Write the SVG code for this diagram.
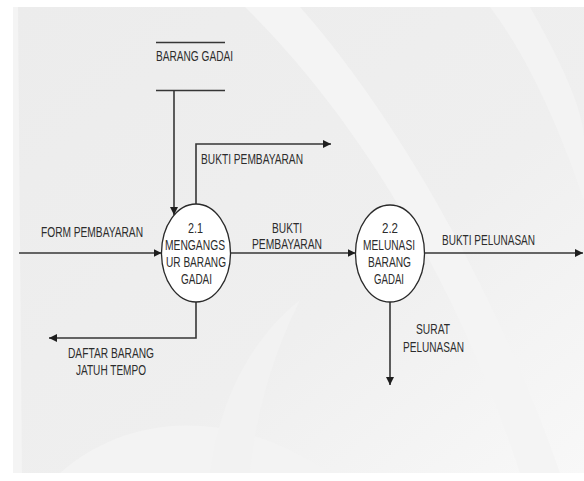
<svg xmlns="http://www.w3.org/2000/svg" width="584" height="481" viewBox="0 0 584 481">
  <style>
    .flow { fill: none; stroke: #363636; stroke-width: 1.6; }
    .store { fill: none; stroke: #363636; stroke-width: 1.7; }
    .proc { fill: #ffffff; stroke: #2a2a2a; stroke-width: 1.3; }
    .lbl { font-family: "Liberation Sans", Arial, sans-serif; font-size: 14px; fill: #2c2c2c; }
  </style>
  <defs>
    <marker id="arrow" viewBox="0 0 8 8" refX="8" refY="4" markerWidth="8" markerHeight="8" markerUnits="userSpaceOnUse" orient="auto">
      <path d="M0,0 L8,4 L0,8 z" fill="#1e1e1e"/>
    </marker>
    <linearGradient id="bgShade" x1="0" y1="0" x2="1" y2="1">
      <stop offset="0" stop-color="#ececec"/>
      <stop offset="0.6" stop-color="#efefef"/>
      <stop offset="1" stop-color="#f8f8f8"/>
    </linearGradient>
  </defs>

  <!-- backdrop with soft light swooshes -->
  <g id="backdrop">
    <rect x="0" y="0" width="584" height="481" fill="#ffffff"/>
    <rect x="13" y="7" width="571" height="466" fill="url(#bgShade)"/>
    <path d="M245,7 L300,7 C400,120 500,300 560,473 L520,473 C470,320 380,140 245,7 z" fill="#f4f4f4"/>
    <path d="M490,7 L530,7 C560,60 584,110 584,140 L584,200 C560,130 530,60 490,7 z" fill="#f3f3f3"/>
    <path d="M60,473 C120,420 220,400 330,473 z" fill="#f3f3f3"/>
    <path d="M210,473 C220,400 250,340 300,300 C270,360 255,420 250,473 z" fill="#f2f2f2"/>
    <path d="M13,7 L18,7 L22,473 L13,473 z" fill="#f4f4f4"/>
  </g>

  <!-- data store -->
  <g id="store-barang-gadai">
    <line class="store" x1="156" y1="42.5" x2="225" y2="42.5"/>
    <line class="store" x1="156" y1="90.5" x2="225" y2="90.5"/>
    <text class="lbl" x="156" y="61" textLength="77" lengthAdjust="spacingAndGlyphs">BARANG GADAI</text>
  </g>

  <!-- data flows -->
  <g id="connectors">
    <line class="flow" x1="174" y1="90.5" x2="174" y2="215" marker-end="url(#arrow)"/>
    <polyline class="flow" points="196,204 196,144 331,144" marker-end="url(#arrow)"/>
    <line class="flow" x1="19" y1="253" x2="161.5" y2="253" marker-end="url(#arrow)"/>
    <line class="flow" x1="230.5" y1="253" x2="355.5" y2="253" marker-end="url(#arrow)"/>
    <line class="flow" x1="424.5" y1="253" x2="583" y2="253" marker-end="url(#arrow)"/>
    <line class="flow" x1="390" y1="302" x2="390" y2="385" marker-end="url(#arrow)"/>
    <polyline class="flow" points="196,302 196,338 49,338" marker-end="url(#arrow)"/>

    <text class="lbl" x="201" y="164" textLength="102" lengthAdjust="spacingAndGlyphs">BUKTI PEMBAYARAN</text>
    <text class="lbl" x="41" y="237" textLength="102" lengthAdjust="spacingAndGlyphs">FORM PEMBAYARAN</text>
    <text class="lbl" x="272" y="233" textLength="30" lengthAdjust="spacingAndGlyphs">BUKTI</text>
    <text class="lbl" x="252" y="249" textLength="70" lengthAdjust="spacingAndGlyphs">PEMBAYARAN</text>
    <text class="lbl" x="442" y="245" textLength="93" lengthAdjust="spacingAndGlyphs">BUKTI PELUNASAN</text>
    <text class="lbl" x="416" y="334" textLength="34" lengthAdjust="spacingAndGlyphs">SURAT</text>
    <text class="lbl" x="403" y="352" textLength="61" lengthAdjust="spacingAndGlyphs">PELUNASAN</text>
    <text class="lbl" x="68" y="357.5" textLength="86" lengthAdjust="spacingAndGlyphs">DAFTAR BARANG</text>
    <text class="lbl" x="76" y="374.5" textLength="70" lengthAdjust="spacingAndGlyphs">JATUH TEMPO</text>
  </g>

  <!-- process 2.1 -->
  <g id="proc-2-1">
    <ellipse class="proc" cx="196" cy="253" rx="34.5" ry="49"/>
    <text class="lbl" x="188" y="232.5" textLength="15" lengthAdjust="spacingAndGlyphs">2.1</text>
    <text class="lbl" x="165" y="249.5" textLength="60" lengthAdjust="spacingAndGlyphs">MENGANGS</text>
    <text class="lbl" x="166" y="266.5" textLength="60" lengthAdjust="spacingAndGlyphs">UR BARANG</text>
    <text class="lbl" x="181" y="283.5" textLength="31" lengthAdjust="spacingAndGlyphs">GADAI</text>
  </g>

  <!-- process 2.2 -->
  <g id="proc-2-2">
    <ellipse class="proc" cx="390" cy="253.5" rx="34.5" ry="48.5"/>
    <text class="lbl" x="382" y="232.5" textLength="16" lengthAdjust="spacingAndGlyphs">2.2</text>
    <text class="lbl" x="363" y="249.5" textLength="52" lengthAdjust="spacingAndGlyphs">MELUNASI</text>
    <text class="lbl" x="368" y="266.5" textLength="43" lengthAdjust="spacingAndGlyphs">BARANG</text>
    <text class="lbl" x="374" y="283.5" textLength="30" lengthAdjust="spacingAndGlyphs">GADAI</text>
  </g>
</svg>
